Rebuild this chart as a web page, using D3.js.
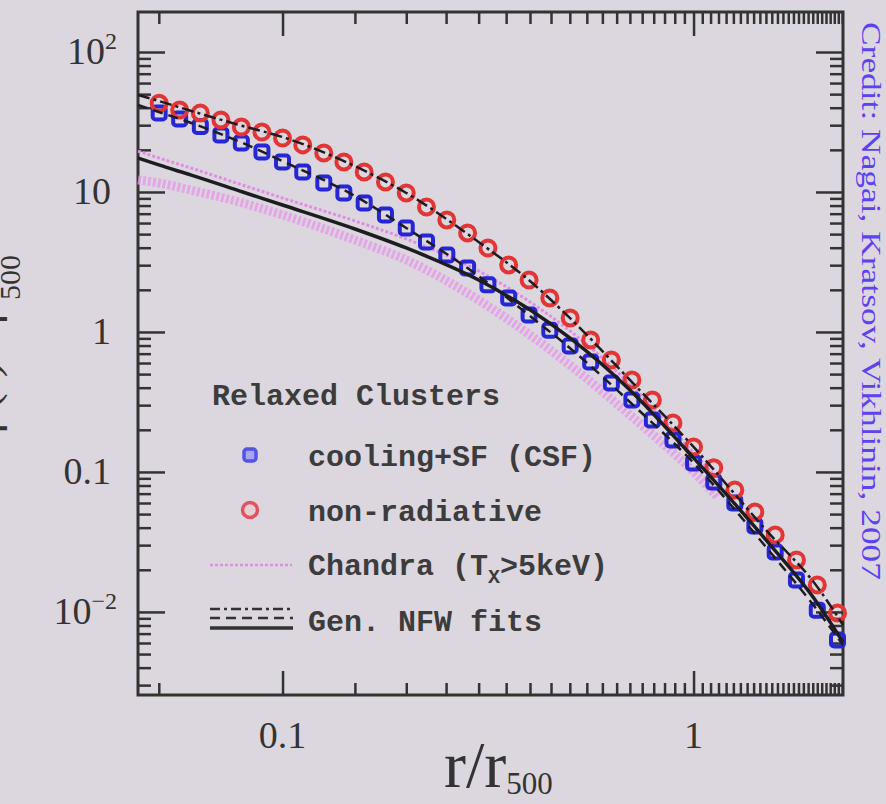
<!DOCTYPE html>
<html>
<head>
<meta charset="utf-8">
<script src="https://cdn.jsdelivr.net/npm/d3@7"></script>
<style>
  body { margin: 0; background: #dcd7de; }
  svg { display: block; }
  .axis path { display: none; }
  .axis line { stroke: #333; stroke-width: 2.5; }
  .tick-label { font-family: "Liberation Serif", "DejaVu Serif", serif; fill: #333; }
  .legend { font-family: "Liberation Mono", "DejaVu Sans Mono", monospace; font-weight: bold; fill: #3c3c3c; }
</style>
</head>
<body>
<div id="chart"></div>
<script>
// simulation radii (r / r500) and profiles
var rSim = [0.0501, 0.0562, 0.0631, 0.0708, 0.0794, 0.0891, 0.1, 0.112, 0.126, 0.141, 0.158, 0.178,
  0.2, 0.224, 0.251, 0.282, 0.316, 0.355, 0.398, 0.447, 0.501, 0.562, 0.631, 0.708, 0.794, 0.891,
  1.0, 1.12, 1.26, 1.41, 1.58, 1.78, 2.0, 2.24];
var nonRad = [43.0, 38.5, 36.7, 32.7, 29.1, 26.8, 24.3, 21.7, 19.0, 16.4, 13.9, 11.8, 9.84, 7.82,
  6.31, 5.10, 3.98, 3.01, 2.35, 1.75, 1.26, 0.877, 0.631, 0.454, 0.327, 0.224, 0.151, 0.107,
  0.0744, 0.0518, 0.0355, 0.0235, 0.0156, 0.00984];
var csf = [36.7, 33.2, 29.4, 25.5, 22.4, 19.3, 16.4, 13.9, 11.6, 9.84, 8.34, 6.85, 5.53, 4.39,
  3.55, 2.86, 2.17, 1.75, 1.32, 1.03, 0.794, 0.611, 0.432, 0.327, 0.235, 0.169, 0.116, 0.0849,
  0.0601, 0.0411, 0.0268, 0.0169, 0.0103, 0.0063];

// generalized NFW fits
var rFit = [0.0445, 0.05, 0.06, 0.08, 0.1, 0.15, 0.2, 0.3, 0.4, 0.5, 0.7, 1, 1.5, 2, 2.31];
var fitNonRad = [49.3, 44.7, 37.9, 29.6, 24.7, 15.3, 9.84, 4.39, 2.31, 1.26, 0.454, 0.151, 0.0385, 0.0151, 0.00807];
var fitCsf = [41.8, 37.3, 31.1, 22.4, 16.6, 9.36, 5.53, 2.51, 1.30, 0.769, 0.316, 0.116, 0.0291, 0.0103, 0.00581];
var fitChandra = [17.5, 15.6, 13.2, 10.0, 8.07, 5.44, 3.98, 2.35, 1.44, 0.906, 0.385, 0.126, 0.0327, 0.0116, 0.0061];

// Chandra observed profiles (T_X > 5 keV)
var rChandra = [0.0445, 0.05, 0.06, 0.08, 0.1, 0.15, 0.2, 0.3, 0.4, 0.5, 0.7, 1, 1.15];
var chandraHi = [19.6, 17.5, 14.8, 11.2, 9.06, 6.21, 4.62, 2.73, 1.64, 1.02, 0.425, 0.137, 0.0877];
var chandraLo = [12.2, 11.6, 10.3, 8.35, 6.85, 4.54, 3.27, 1.69, 0.952, 0.581, 0.255, 0.1, 0.0652];

// ticks
var yMajor = [0.01, 0.1, 1, 10, 100];
var xMajor = [0.1, 1];

var W = 886, H = 804;
var frame = { left: 138, right: 843, top: 12, bottom: 695 };

var svg = d3.select("#chart").append("svg")
  .attr("width", W)
  .attr("height", H);

svg.append("rect").attr("width", W).attr("height", H).attr("fill", "#dcd7de");

var defs = svg.append("defs");
defs.append("filter").attr("id", "soft")
  .append("feGaussianBlur").attr("stdDeviation", 0.7);

var x = d3.scaleLog().domain([0.0445, 2.31]).range([frame.left, frame.right]);
var y = d3.scaleLog().domain([193.1, 0.00255]).range([frame.top, frame.bottom]);

function minors(scale) {
  var d = scale.domain(), lo = Math.min(d[0], d[1]), hi = Math.max(d[0], d[1]);
  return scale.ticks(40).filter(function(t) {
    var m = t / Math.pow(10, Math.floor(Math.log10(t) + 1e-9));
    return Math.abs(m - 1) > 1e-6 && t >= lo && t <= hi;
  });
}

// axes: ticks point inward on all four sides
function addAxis(gen, vals, size, tx, ty) {
  svg.append("g")
    .attr("class", "axis")
    .attr("transform", "translate(" + tx + "," + ty + ")")
    .call(gen.tickValues(vals).tickSize(size).tickFormat(""));
}
addAxis(d3.axisLeft(y), yMajor, -27, frame.left, 0);
addAxis(d3.axisLeft(y), minors(y), -13, frame.left, 0);
addAxis(d3.axisRight(y), yMajor, -27, frame.right, 0);
addAxis(d3.axisRight(y), minors(y), -13, frame.right, 0);
addAxis(d3.axisBottom(x), xMajor, -24, 0, frame.bottom);
addAxis(d3.axisBottom(x), minors(x), -12, 0, frame.bottom);
addAxis(d3.axisTop(x), xMajor, -24, 0, frame.top);
addAxis(d3.axisTop(x), minors(x), -12, 0, frame.top);

svg.append("rect")
  .attr("x", frame.left).attr("y", frame.top)
  .attr("width", frame.right - frame.left).attr("height", frame.bottom - frame.top)
  .attr("fill", "none").attr("stroke", "#333").attr("stroke-width", 3);

// y tick labels
var yLab = [
  { v: 100, base: "10", sup: "2" },
  { v: 10, base: "10" },
  { v: 1, base: "1" },
  { v: 0.1, base: "0.1" },
  { v: 0.01, base: "10", sup: "\u22122" }
];
yLab.forEach(function(d) {
  var t = svg.append("text")
    .attr("class", "tick-label")
    .attr("x", d.sup ? 117 : 111)
    .attr("y", y(d.v) + 12)
    .attr("text-anchor", "end")
    .attr("font-size", 38)
    .text(d.base);
  if (d.sup) {
    t.append("tspan").attr("dy", -15).attr("font-size", 24).text(d.sup);
  }
});

// x tick labels
svg.selectAll(".xlab")
  .data([{ v: 0.1, t: "0.1" }, { v: 1, t: "1" }])
  .enter().append("text")
  .attr("class", "tick-label")
  .attr("x", function(d) { return x(d.v); })
  .attr("y", 748)
  .attr("text-anchor", "middle")
  .attr("font-size", 38)
  .text(function(d) { return d.t; });

// x axis title
var xt = svg.append("text")
  .attr("class", "tick-label")
  .attr("x", 444).attr("y", 787)
  .attr("font-size", 66)
  .text("r/r");
xt.append("tspan").attr("font-size", 31).attr("dy", 7).text("500");

// y axis title (cut by the left edge, as in the source picture)
var yt = svg.append("text")
  .attr("class", "tick-label")
  .attr("transform", "translate(-3,255) rotate(-90)")
  .attr("text-anchor", "end")
  .attr("font-size", 48)
  .text("\u03c1(r) / \u03c1");
yt.append("tspan").attr("font-size", 30).attr("dy", 23).text("500");

// credit
svg.append("text")
  .attr("transform", "translate(862,22) rotate(90)")
  .attr("font-family", "'Liberation Serif', serif")
  .attr("font-size", 27)
  .attr("fill", "#5d42f0")
  .attr("textLength", 558)
  .attr("lengthAdjust", "spacingAndGlyphs")
  .text("Credit: Nagai, Kratsov, Vikhlinin, 2007");

// plot marks
var plot = svg.append("g").attr("filter", "url(#soft)");

function series(rs, vs) {
  return rs.map(function(r, i) { return { r: r, v: vs[i] }; });
}
var line = d3.line()
  .x(function(d) { return x(d.r); })
  .y(function(d) { return y(d.v); })
  .curve(d3.curveMonotoneX);

// Chandra profiles
plot.append("path")
  .attr("d", line(series(rChandra, chandraLo)))
  .attr("fill", "none").attr("stroke", "#e59ae8").attr("stroke-width", 9)
  .attr("stroke-dasharray", "3,2").attr("opacity", 0.8);
plot.append("path")
  .attr("d", line(series(rChandra, chandraHi)))
  .attr("fill", "none").attr("stroke", "#e08ee4").attr("stroke-width", 3)
  .attr("stroke-dasharray", "3,2");

// simulation points
plot.selectAll(".csf")
  .data(series(rSim, csf))
  .enter().append("rect")
  .attr("class", "csf")
  .attr("x", function(d) { return x(d.r) - 6.5; })
  .attr("y", function(d) { return y(d.v) - 6.5; })
  .attr("width", 13).attr("height", 13)
  .attr("rx", 3)
  .attr("fill", "none").attr("stroke", "#2727d6").attr("stroke-width", 4);

plot.selectAll(".nonrad")
  .data(series(rSim, nonRad))
  .enter().append("circle")
  .attr("class", "nonrad")
  .attr("cx", function(d) { return x(d.r); })
  .attr("cy", function(d) { return y(d.v); })
  .attr("r", 7.5)
  .attr("fill", "none").attr("stroke", "#e23535").attr("stroke-width", 4);

// NFW fits
plot.append("path")
  .attr("d", line(series(rFit, fitChandra)))
  .attr("fill", "none").attr("stroke", "#1e1e24").attr("stroke-width", 3.5);
plot.append("path")
  .attr("d", line(series(rFit, fitCsf)))
  .attr("fill", "none").attr("stroke", "#1e1e24").attr("stroke-width", 2.5)
  .attr("stroke-dasharray", "10,6");
plot.append("path")
  .attr("d", line(series(rFit, fitNonRad)))
  .attr("fill", "none").attr("stroke", "#1e1e24").attr("stroke-width", 2.5)
  .attr("stroke-dasharray", "12,4,3,4");

// legend
var lg = svg.append("g");
lg.append("text").attr("class", "legend").attr("x", 212).attr("y", 405)
  .attr("font-size", 30).text("Relaxed Clusters");

var lgm = lg.append("g").attr("filter", "url(#soft)");
lgm.append("rect").attr("x", 244).attr("y", 449).attr("width", 12).attr("height", 12).attr("rx", 3)
  .attr("fill", "#a9a6f0").attr("stroke", "#5252e6").attr("stroke-width", 3.5);
lgm.append("circle").attr("cx", 250).attr("cy", 510).attr("r", 7.5)
  .attr("fill", "#e7cfd6").attr("stroke", "#e0525e").attr("stroke-width", 3.5);
lgm.append("line").attr("x1", 210).attr("x2", 292).attr("y1", 565).attr("y2", 565)
  .attr("stroke", "#e08ee4").attr("stroke-width", 2.5).attr("stroke-dasharray", "3,2");
lgm.append("line").attr("x1", 210).attr("x2", 293).attr("y1", 609).attr("y2", 609)
  .attr("stroke", "#333").attr("stroke-width", 2.5).attr("stroke-dasharray", "10,4,3,4");
lgm.append("line").attr("x1", 210).attr("x2", 293).attr("y1", 618).attr("y2", 618)
  .attr("stroke", "#333").attr("stroke-width", 2.5).attr("stroke-dasharray", "10,6");
lgm.append("line").attr("x1", 210).attr("x2", 293).attr("y1", 628).attr("y2", 628)
  .attr("stroke", "#333").attr("stroke-width", 3.5);

lg.append("text").attr("class", "legend").attr("x", 308).attr("y", 466)
  .attr("font-size", 30).text("cooling+SF (CSF)");
lg.append("text").attr("class", "legend").attr("x", 308).attr("y", 521)
  .attr("font-size", 30).text("non-radiative");
var ch = lg.append("text").attr("class", "legend").attr("x", 308).attr("y", 575)
  .attr("font-size", 30).text("Chandra (T");
ch.append("tspan").attr("font-size", 20).attr("dy", 8).text("X");
ch.append("tspan").attr("dy", -8).text(">5keV)");
lg.append("text").attr("class", "legend").attr("x", 308).attr("y", 631)
  .attr("font-size", 30).text("Gen. NFW fits");
</script>
</body>
</html>
